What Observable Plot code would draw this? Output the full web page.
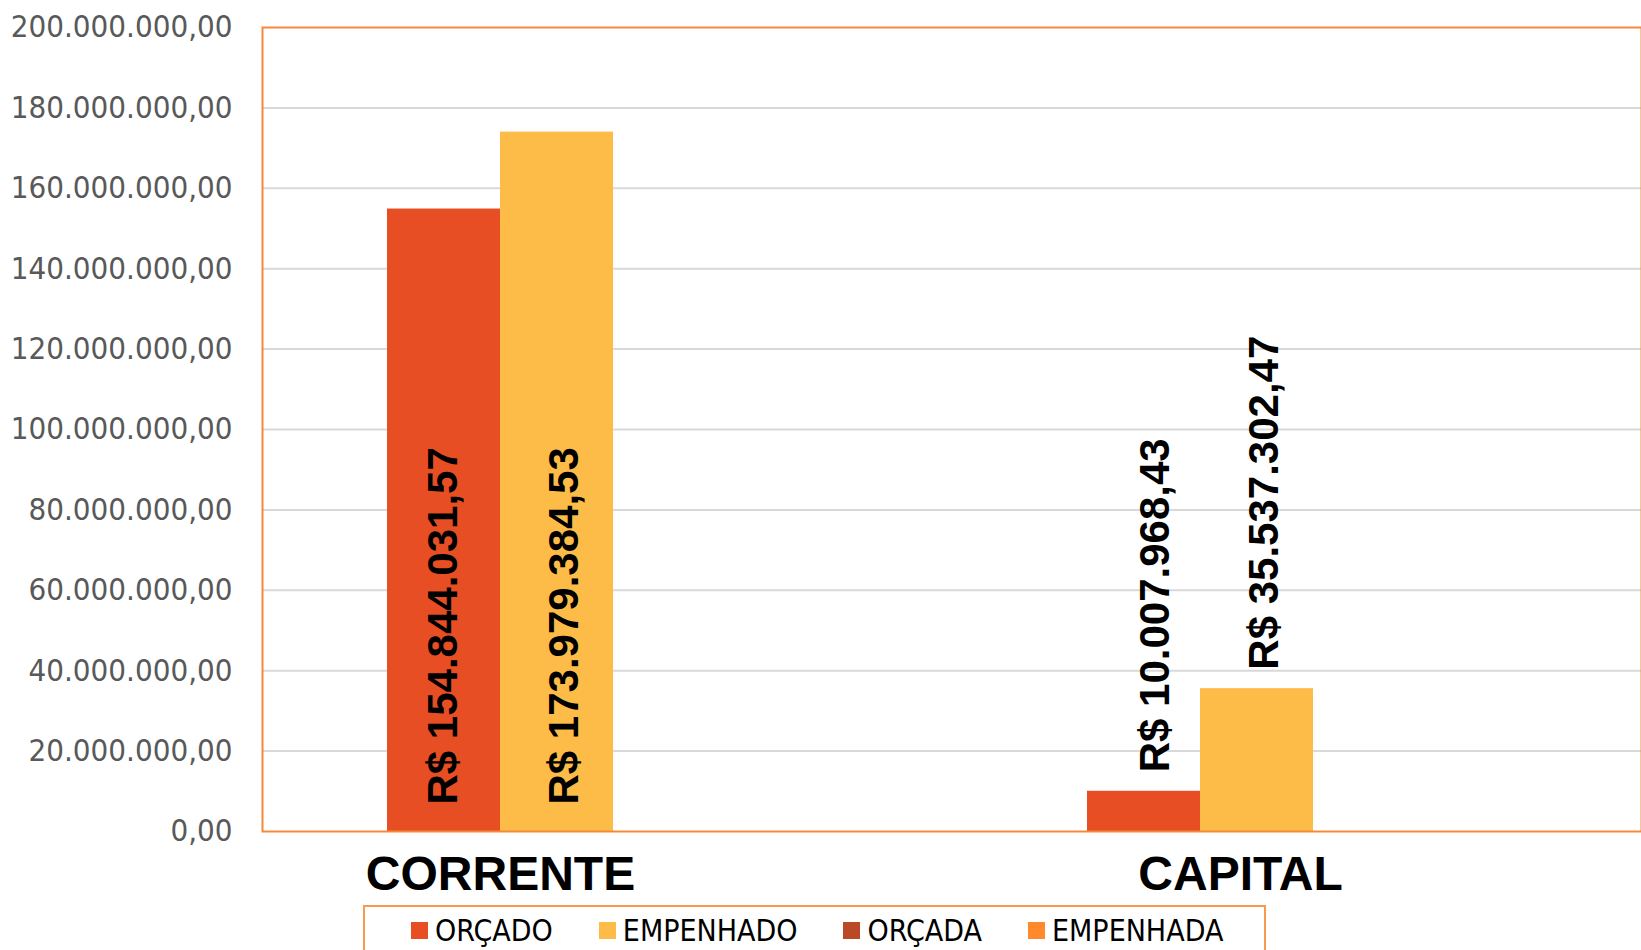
<!DOCTYPE html>
<html>
<head>
<meta charset="utf-8">
<script src="https://cdn.jsdelivr.net/npm/d3@7"></script>
<script src="https://cdn.jsdelivr.net/npm/@observablehq/plot@0.6"></script>
<style>
  html, body { margin: 0; padding: 0; background: #fff; }
  #wrap { position: relative; width: 1641px; height: 950px; overflow: hidden; }
  #legend {
    position: absolute; left: 363px; top: 905px; width: 903px; height: 60px;
    border: 2px solid #F79A50; box-sizing: border-box;
    display: flex; align-items: flex-start; padding-left: 46px; padding-top: 6px;
    font-family: "Liberation Sans Narrow", "DejaVu Sans Condensed", "Liberation Sans", sans-serif;
    font-stretch: condensed; font-size: 30px; color: #000;
  }
  .item { display: flex; align-items: center; margin-right: 46px; }
  .sw { width: 17px; height: 17px; margin-right: 7px; }
</style>
</head>
<body>
<div id="wrap"><div id="chart"></div><div id="legend"></div></div>
<script>
const categories = ["CORRENTE", "CAPITAL"];
const series = ["ORÇADO", "EMPENHADO"];
const orcado = [154844031.57, 10007968.43];
const empenhado = [173979384.53, 35537302.47];
const legendLabels = ["ORÇADO", "EMPENHADO", "ORÇADA", "EMPENHADA"];
const legendColors = ["#E84E23", "#FDBB47", "#B94A25", "#FF8A2B"];
const yTicks = [0, 20000000, 40000000, 60000000, 80000000, 100000000,
  120000000, 140000000, 160000000, 180000000, 200000000];

const loc = d3.formatLocale({decimal: ",", thousands: ".", grouping: [3], currency: ["R$ ", ""]});
const num = loc.format(",.2f");
const money = loc.format("$,.2f");

const rows = categories.flatMap((c, i) => [
  {cat: c, series: series[0], value: orcado[i]},
  {cat: c, series: series[1], value: empenhado[i]}
]);
const fits = d => d.value > 100000000;

const orange = "#F5883A";
// band of each category is 700px; each bar is 113px wide, the pair centred in the band
const band = 700, barW = 113;
const side = (band / 2) - barW;   // inset on the outer side of each bar
const half = band / 2;            // inset on the inner side
const sOpts = [
  {insetLeft: side, insetRight: half, dx: -barW / 2, inShift: 0, outShift: 12},
  {insetLeft: half, insetRight: side, dx: barW / 2, inShift: 8, outShift: 8}
];

const labelFont = "Liberation Sans, Arial, sans-serif";
const marks = [
  Plot.ruleY(yTicks.slice(1, -1), {y: d => d, stroke: "#D9D9D9", strokeWidth: 2}),
  Plot.text(yTicks, {
    y: d => d, text: d => num(d), frameAnchor: "left", textAnchor: "end", dx: -30,
    fontSize: 31, fill: "#595959", fontFamily: "DejaVu Sans Condensed, DejaVu Sans, sans-serif"
  })
];
series.forEach((s, j) => {
  const data = rows.filter(d => d.series === s);
  marks.push(Plot.barY(data, {x: "cat", y: "value", fill: "series",
    insetLeft: sOpts[j].insetLeft, insetRight: sOpts[j].insetRight}));
  marks.push(Plot.text(data.filter(fits), {
    x: "cat", y: () => 0, text: d => money(d.value), rotate: -90,
    textAnchor: "start", dx: sOpts[j].dx + sOpts[j].inShift, dy: -27, fontSize: 42, fontWeight: "bold",
    fill: "#000", fontFamily: labelFont
  }));
  marks.push(Plot.text(data.filter(d => !fits(d)), {
    x: "cat", y: "value", text: d => money(d.value), rotate: -90,
    textAnchor: "start", dx: sOpts[j].dx + sOpts[j].outShift, dy: -19, fontSize: 42, fontWeight: "bold",
    fill: "#000", fontFamily: labelFont
  }));
});
// category labels under the groups (the CAPITAL label sits a little right of its group)
const catShift = [0, 40];
categories.forEach((c, i) => {
  marks.push(Plot.text([c], {
    x: d => d, text: d => d, frameAnchor: "bottom", dy: 58, dx: catShift[i],
    fontSize: 48, fontWeight: "bold", fill: "#000", fontFamily: labelFont
  }));
});
marks.push(Plot.frame({stroke: orange, strokeWidth: 2}));

const chart = Plot.plot({
  width: 1641,
  height: 905,
  marginTop: 27,
  marginBottom: 74,
  marginLeft: 262,
  marginRight: 0,
  x: {domain: categories, range: [150, 150 + 2 * band], padding: 0, axis: null},
  y: {domain: [0, 200000000], axis: null},
  color: {domain: legendLabels, range: legendColors},
  marks
});
document.getElementById("chart").appendChild(chart);

const legend = document.getElementById("legend");
legendLabels.forEach((l, i) => {
  const it = document.createElement("div");
  it.className = "item";
  const sw = document.createElement("div");
  sw.className = "sw";
  sw.style.background = legendColors[i];
  const tx = document.createElement("span");
  tx.textContent = l;
  it.appendChild(sw); it.appendChild(tx);
  legend.appendChild(it);
});
</script>
</body>
</html>
